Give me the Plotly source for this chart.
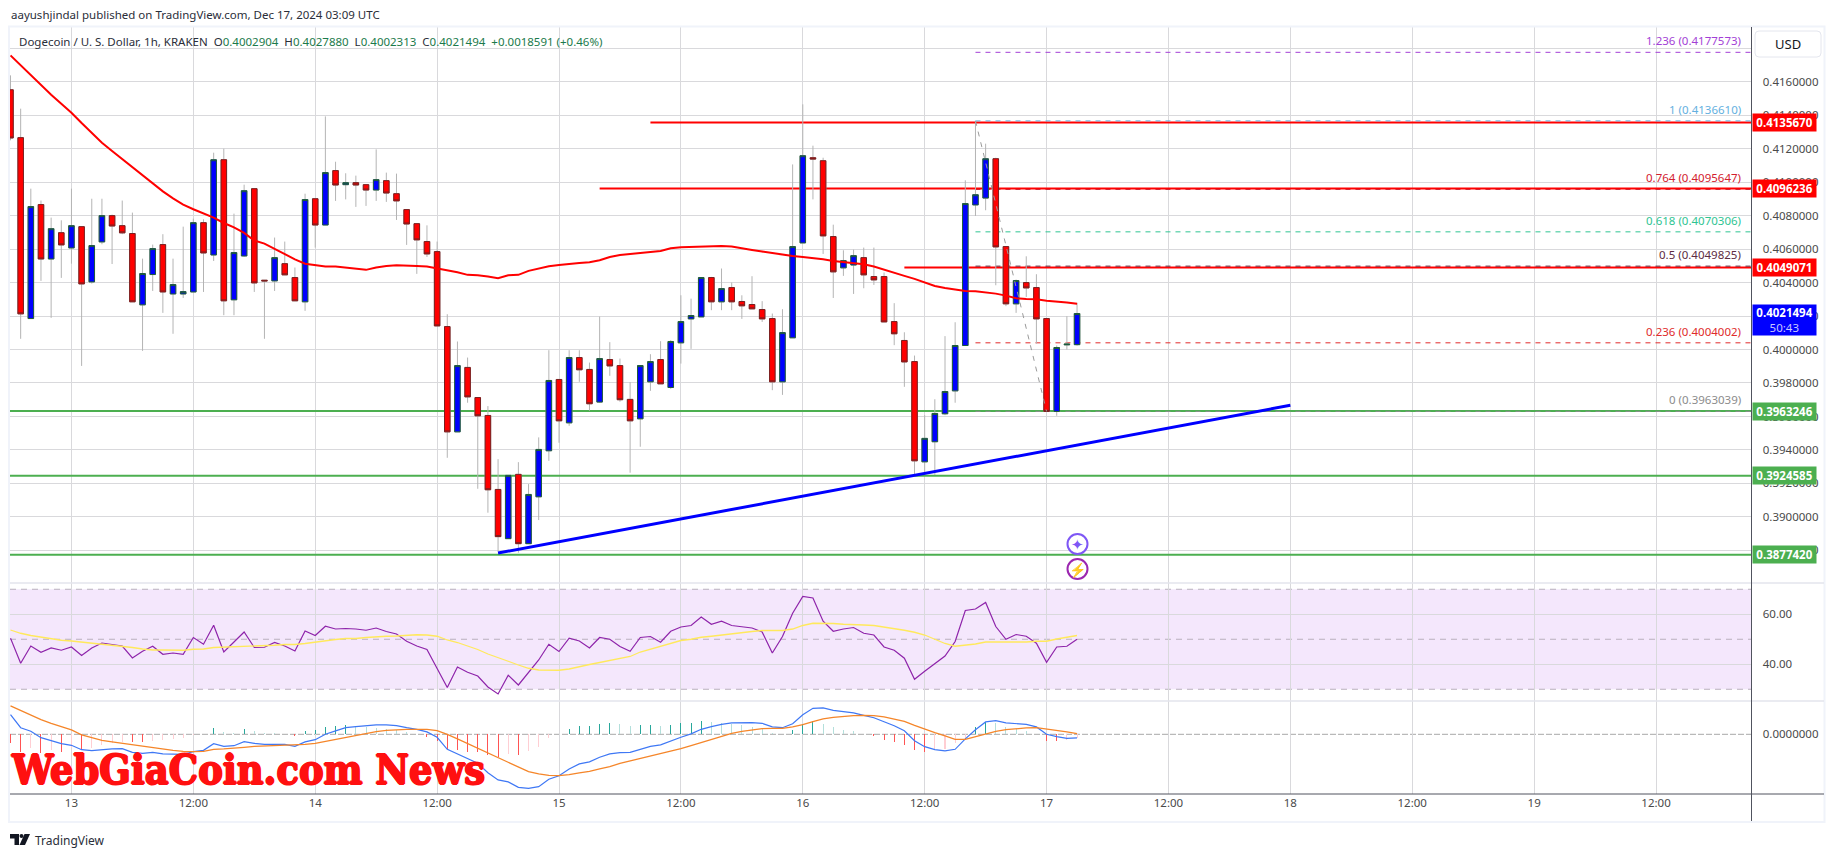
"""DOGE/USD 1h chart with RSI and MACD panes"""

import numpy as np
import pandas as pd
import plotly.graph_objects as go

W, H = 1835, 857
FONT = "Noto Sans"

times = pd.date_range("2024-12-12 18:00", periods=106, freq="h")

open_prices = [
    .41552, .41266, .40185, .40866, .40541, .40698, .40607, .40734, .40404, .40643,
    .40800, .40740, .40693, .40267, .40448, .40627, .40332, .40332, .40344, .40758,
    .40565, .41134, .40297, .40559, .40961, .40414, .40410, .40513, .40430, .40285,
    .40901, .40744, .41069, .40985, .40997, .40985, .40953, .41009, .40931, .40836,
    .40752, .40645, .40585, .40137, .39508, .39893, .39713, .39606, .39164, .38870,
    .39254, .38840, .39120, .39395, .39821, .39562, .39952, .39881, .39686, .39940,
    .39904, .39702, .39586, .39807, .39940, .39773, .40040, .40183, .40195, .40430,
    .40285, .40370, .40287, .40269, .40239, .40185, .39807, .40070, .40637, .41146,
    .41128, .40675, .40488, .40505, .40549, .40436, .40436, .40167, .40054, .39928,
    .39329, .39449, .39616, .39753, .40024, .40864, .40905, .41140, .40615, .40273,
    .40400, .40370, .40185, .39630, .40028, .4002904,
]
high_prices = [
    .41638, .41439, .40961, .40890, .40788, .40772, .40961, .40734, .40901, .40901,
    .40806, .40890, .40818, .40543, .40627, .40689, .40543, .40734, .40782, .40778,
    .41176, .41200, .40812, .40985, .40961, .40414, .40669, .40645, .40490, .40931,
    .40901, .41393, .41122, .41053, .41039, .40985, .41196, .41057, .41051, .40836,
    .40752, .40742, .40645, .40211, .40048, .39952, .39713, .39662, .39345, .39248,
    .39327, .39196, .39475, .39996, .39821, .39996, .39996, .39922, .40197, .40044,
    .39946, .39805, .39904, .39972, .40050, .40056, .40324, .40304, .40430, .40434,
    .40484, .40400, .40324, .40438, .40289, .40215, .40241, .41106, .41465, .41218,
    .41146, .40746, .40593, .40597, .40609, .40609, .40460, .40277, .40103, .39964,
    .39608, .39703, .40080, .40163, .41011, .41366, .41230, .41146, .40615, .40418,
    .40557, .40450, .40185, .40024, .40199, .4027880,
]
low_prices = [
    .41250, .40064, .40185, .40410, .40189, .40428, .40513, .39902, .40394, .40629,
    .40511, .40689, .40285, .39992, .40350, .40219, .40094, .40308, .40344, .40344,
    .40529, .40205, .40205, .40553, .40344, .40064, .40350, .40446, .40291, .40231,
    .40609, .40744, .40888, .40897, .40852, .40858, .40888, .40882, .40774, .40625,
    .40452, .40553, .40141, .39353, .39508, .39682, .39168, .39025, .38792, .38870,
    .38786, .38840, .38981, .39335, .39443, .39544, .39807, .39634, .39682, .39843,
    .39688, .39264, .39419, .39753, .39795, .39765, .39916, .40004, .40195, .40235,
    .40235, .40235, .40183, .40243, .40165, .39757, .39729, .40070, .40637, .40897,
    .40571, .40308, .40440, .40332, .40366, .40386, .40165, .40026, .39777, .39240,
    .39264, .39250, .39608, .39682, .40024, .40798, .40832, .40384, .40259, .40219,
    .40314, .40036, .39630, .39604, .40000, .4002313,
]
close_prices = [
    .41264, .40213, .40854, .40541, .40722, .40625, .40740, .40392, .40621, .40800,
    .40738, .40697, .40285, .40454, .40603, .40344, .40388, .40346, .40758, .40577,
    .41134, .40291, .40579, .40949, .40398, .40410, .40549, .40446, .40291, .40896,
    .40744, .41057, .40983, .40997, .40983, .40953, .41015, .40935, .40888, .40750,
    .40655, .40571, .40141, .39508, .39904, .39717, .39604, .39162, .38882, .39248,
    .38840, .39134, .39403, .39815, .39574, .39952, .39879, .39676, .39946, .39902,
    .39700, .39574, .39904, .39928, .39795, .40048, .40167, .40203, .40430, .40285,
    .40364, .40285, .40261, .40243, .40183, .39807, .40101, .40615, .41158, .41138,
    .40679, .40464, .40531, .40561, .40446, .40416, .40165, .40094, .39926, .39335,
    .39469, .39618, .39749, .40024, .40872, .40925, .41140, .40613, .40273, .40412,
    .40368, .40183, .39630, .40012, .40032, .4021494,
]
ma_values = [
    .41757, .41697, .41638, .41578, .41522, .41469, .41415, .41353, .41292, .41236,
    .41186, .41138, .41091, .41043, .40991, .40945, .40903, .40866, .40838, .40814,
    .40788, .40756, .40730, .40697, .40651, .40633, .40601, .40573, .40539, .40513,
    .40503, .40496, .40496, .40488, .40480, .40476, .40490, .40499, .40503, .40503,
    .40499, .40496, .40486, .40474, .40462, .40446, .40444, .40436, .40426, .40444,
    .40446, .40470, .40486, .40498, .40505, .40513, .40517, .40521, .40533, .40553,
    .40565, .40571, .40575, .40583, .40589, .40605, .40611, .40613, .40617, .40619,
    .40619, .40615, .40607, .40595, .40585, .40575, .40567, .40559, .40553, .40547,
    .40539, .40529, .40521, .40517, .40509, .40496, .40476, .40458, .40440, .40422,
    .40400, .40380, .40368, .40358, .40350, .40348, .40342, .40334, .40322, .40306,
    .40302, .40300, .40291, .40287, .40281, .40273,
]
rsi_values = [
    50.4, 40.4, 47.3, 44.8, 46.5, 45.6, 46.9, 43.5, 46.5, 48.5,
    47.9, 47.3, 42.5, 45.2, 47.2, 44.0, 44.5, 44.0, 50.7, 48.0,
    55.6, 44.9, 48.9, 52.9, 46.7, 46.8, 48.7, 47.3, 45.3, 53.3,
    51.5, 55.2, 54.1, 54.3, 54.1, 53.6, 54.5, 53.1, 52.1, 49.2,
    47.3, 45.9, 38.3, 30.7, 38.9, 36.8, 35.3, 30.9, 28.1, 35.6,
    31.7, 36.7, 41.7, 48.0, 45.1, 50.4, 49.3, 46.5, 50.7, 50.0,
    47.1, 45.2, 50.7, 51.1, 48.8, 53.2, 54.9, 55.5, 58.9, 56.0,
    57.2, 55.5, 55.1, 54.5, 52.9, 44.5, 51.1, 60.4, 67.1, 66.5,
    57.2, 53.2, 54.1, 54.7, 52.4, 51.7, 46.9, 45.6, 42.4, 34.0,
    37.2, 40.4, 43.3, 49.1, 61.5, 62.1, 64.7, 55.1, 50.0, 51.9,
    51.2, 48.4, 40.8, 46.9, 47.2, 50.0,
]
rsi_ma_values = [
    53.7, 52.4, 51.5, 50.8, 50.1, 49.6, 49.3, 48.9, 48.4, 48.1,
    47.7, 47.1, 46.7, 46.1, 45.7, 45.7, 45.6, 45.6, 46.0, 46.1,
    46.7, 46.8, 46.9, 47.2, 47.2, 47.2, 47.6, 47.9, 47.9, 48.3,
    48.9, 49.5, 49.9, 50.3, 50.3, 50.7, 51.1, 51.2, 51.3, 51.7,
    51.8, 51.7, 51.2, 49.7, 48.7, 47.3, 45.9, 44.1, 42.5, 41.2,
    39.7, 38.4, 37.7, 37.6, 37.6, 38.1, 39.1, 39.9, 40.7, 41.5,
    42.3, 43.1, 44.9, 46.0, 47.2, 48.4, 49.5, 50.0, 50.8, 51.2,
    51.7, 52.4, 52.8, 53.1, 53.5, 53.5, 53.5, 54.1, 55.5, 56.4,
    56.5, 56.3, 56.0, 56.0, 55.7, 55.5, 54.9, 54.4, 53.6, 52.8,
    51.7, 50.0, 48.3, 47.2, 47.5, 48.1, 48.9, 48.9, 48.8, 48.8,
    48.9, 49.2, 49.2, 50.1, 50.8, 51.5,
]
# MACD pane values, in units of 0.0001
macd_values = [
    9.8, 3.3, 1.5, -1.7, -3.2, -4.7, -5.5, -7.7, -8.2, -7.7,
    -7.3, -7.2, -9.0, -9.5, -9.0, -9.8, -9.8, -10.0, -8.7, -8.0,
    -4.7, -6.0, -5.7, -3.7, -4.5, -5.0, -5.0, -5.0, -6.0, -3.8,
    -2.7, 0.0, 1.7, 3.3, 3.8, 4.3, 4.7, 4.7, 4.3, 3.3,
    2.5, 1.2, -1.5, -7.5, -9.8, -12.2, -14.5, -19.2, -22.8, -23.8,
    -26.5, -27.0, -26.2, -22.5, -20.7, -17.3, -14.8, -13.8, -11.5, -9.8,
    -9.2, -9.0, -7.5, -6.0, -5.3, -3.3, -1.5, 0.2, 2.5, 3.8,
    5.0, 5.7, 5.8, 5.8, 5.5, 3.7, 3.3, 5.3, 9.8, 13.0,
    13.2, 12.0, 11.3, 10.7, 9.5, 8.3, 6.3, 4.3, 1.8, -3.2,
    -6.2, -7.7, -8.3, -7.5, -2.3, 2.3, 6.2, 6.8, 5.7, 5.5,
    5.0, 3.7, 0.0, -1.2, -2.0, -1.8,
]
signal_values = [
    14.2, 11.8, 9.5, 7.3, 5.5, 3.8, 2.2, -0.3, -1.7, -3.0,
    -3.8, -4.5, -5.3, -6.2, -6.8, -7.3, -8.0, -8.5, -8.7, -8.5,
    -7.5, -7.3, -7.0, -6.5, -6.0, -5.8, -5.7, -5.5, -5.5, -5.0,
    -4.5, -3.5, -2.5, -1.5, -0.5, 0.5, 1.3, 2.0, 2.3, 2.5,
    2.5, 2.5, 1.8, 0.0, -2.3, -4.7, -7.0, -9.3, -11.7, -14.0,
    -16.7, -18.7, -19.8, -20.5, -20.7, -20.2, -19.3, -18.5, -17.3, -16.2,
    -14.5, -13.3, -12.2, -11.0, -9.8, -8.7, -7.2, -5.7, -4.2, -2.7,
    -1.0, 0.5, 1.5, 2.3, 2.8, 3.0, 3.0, 3.7, 4.8, 6.3,
    7.7, 8.5, 9.0, 9.3, 9.5, 9.3, 8.7, 7.7, 6.5, 4.5,
    2.5, 0.8, -0.8, -2.5, -2.5, -1.2, 0.2, 1.5, 2.3, 2.8,
    3.2, 3.3, 2.7, 1.8, 1.2, 0.3,
]
hist_values = [
    -4.2, -8.7, -7.0, -9.5, -7.8, -8.7, -7.0, -7.8, -6.8, -5.3,
    -4.5, -3.8, -3.8, -3.8, -3.5, -2.7, -2.3, -1.8, -0.2, 0.3,
    3.2, 1.0, 0.5, 2.7, 1.5, 0.7, 0.5, 0.3, -0.7, 1.7,
    2.0, 3.7, 4.2, 4.7, 4.3, 3.8, 3.3, 2.8, 2.2, 1.0,
    0.0, -1.2, -3.2, -7.5, -7.8, -8.7, -8.7, -10.3, -11.5, -10.0,
    -10.3, -8.3, -6.2, -2.0, 0.0, 2.8, 4.3, 4.3, 5.2, 5.7,
    5.3, 4.2, 4.7, 4.7, 4.2, 4.7, 5.5, 5.5, 6.7, 6.0,
    5.7, 5.2, 4.7, 3.7, 2.8, 0.5, 0.3, 2.2, 5.0, 6.5,
    5.2, 3.7, 2.2, 1.7, 0.2, -0.7, -2.8, -3.7, -5.3, -7.8,
    -8.7, -7.8, -7.5, -4.5, -2.3, 3.7, 6.3, 5.7, 3.7, 2.7,
    1.5, 0.3, -3.3, -3.3, -2.8, -1.7,
]

price_ticks = [.418, .416, .414, .412, .41, .408, .406, .404, .402, .4, .398, .396, .394, .392, .39, .388]
time_ticks = pd.date_range("2024-12-13", periods=14, freq="12h")
time_labels = ["13", "12:00", "14", "12:00", "15", "12:00", "16", "12:00", "17", "12:00", "18", "12:00", "19", "12:00"]

resistance_levels = [(0.4135670, "2024-12-15 09:00"), (0.4096236, "2024-12-15 04:00"), (0.4049071, "2024-12-16 10:00")]
support_levels = [0.3963246, 0.3924585, 0.3877420]
trend_x = ["2024-12-14 18:00", "2024-12-18 00:00"]
trend_y = [0.38784, 0.39667]

fib_start = "2024-12-16 17:00"
fib_levels = [
    ("1.236", 0.4177573, "#a33fd6"),
    ("1", 0.4136610, "#64b0e0"),
    ("0.764", 0.4095647, "#d3202e"),
    ("0.618", 0.4070306, "#2fc492"),
    ("0.5", 0.4049825, "#5d2c42"),
    ("0.236", 0.4004002, "#e02b2b"),
    ("0", 0.3963039, "#8c8c8c"),
]
fib_diag_x = ["2024-12-16 17:00", "2024-12-17 00:00"]
fib_diag_y = [0.4136610, 0.3963039]

x_range = ["2024-12-12 17:57", "2024-12-19 21:24"]
x_right = x_range[1]

GRID = "#d9d9dc"
TEXT = "#4a4a4a"


def px(x):
    return x / W


def py(y):
    return 1 - y / H


fig = go.Figure()

# wicks first, grey, then bodies with their own border on top
fig.add_trace(go.Candlestick(
    x=times, open=open_prices, high=high_prices, low=low_prices, close=close_prices,
    increasing=dict(line=dict(color="#b4b4b4", width=1), fillcolor="#b4b4b4"),
    decreasing=dict(line=dict(color="#b4b4b4", width=1), fillcolor="#b4b4b4"),
    whiskerwidth=0, hoverinfo="skip", showlegend=False,
))
body_top = np.maximum(open_prices, close_prices)
body_bottom = np.minimum(open_prices, close_prices)
fig.add_trace(go.Candlestick(
    x=times, open=open_prices, high=body_top, low=body_bottom, close=close_prices,
    increasing=dict(line=dict(color="#1e5c3a", width=1), fillcolor="#0000ff"),
    decreasing=dict(line=dict(color="#7a1f1f", width=1), fillcolor="#ff0000"),
    whiskerwidth=0, showlegend=False,
))
fig.add_trace(go.Scatter(x=times, y=ma_values, mode="lines", line=dict(color="#ff0000", width=2), showlegend=False))
fig.add_trace(go.Scatter(x=trend_x, y=trend_y, mode="lines", line=dict(color="#0000ff", width=3), showlegend=False))
fig.add_trace(go.Scatter(x=fib_diag_x, y=fib_diag_y, mode="lines",
                         line=dict(color="#9a9a9a", width=1, dash="5px,6px"), showlegend=False))

# RSI pane
fig.add_trace(go.Scatter(x=times, y=rsi_values, mode="lines", yaxis="y2",
                         line=dict(color="#8e24aa", width=1.2), showlegend=False))
fig.add_trace(go.Scatter(x=times, y=rsi_ma_values, mode="lines", yaxis="y2",
                         line=dict(color="#ffe95c", width=1.3), showlegend=False))

# MACD pane; alpha just under 1 keeps plotly from widening the thin bars to 2px
macd_scale = 1e-4
hist = np.array(hist_values) * macd_scale
hist_colors = []
for i, v in enumerate(hist):
    prev = hist[i - 1] if i else v
    if v >= 0:
        hist_colors.append("rgba(38,166,154,0.99)" if v >= prev else "rgba(178,223,219,0.99)")
    else:
        hist_colors.append("rgba(255,82,82,0.99)" if v <= prev else "rgba(255,205,210,0.99)")
fig.add_trace(go.Bar(x=times, y=hist, yaxis="y3", width=360000, marker=dict(color=hist_colors, line_width=0),
                     showlegend=False))
fig.add_trace(go.Scatter(x=times, y=np.array(macd_values) * macd_scale, mode="lines", yaxis="y3",
                         line=dict(color="#3f78f5", width=1.2), showlegend=False))
fig.add_trace(go.Scatter(x=times, y=np.array(signal_values) * macd_scale, mode="lines", yaxis="y3",
                         line=dict(color="#f5862a", width=1.3), showlegend=False))

shapes = []
for level, start in resistance_levels:
    shapes.append(dict(type="line", xref="x", yref="y", x0=start, x1=x_right, y0=level, y1=level,
                       layer="between", line=dict(color="#ff0000", width=2)))
for level in support_levels:
    shapes.append(dict(type="line", xref="x", yref="y", x0=x_range[0], x1=x_right, y0=level, y1=level,
                       layer="between", line=dict(color="#4caf50", width=2)))
for _, level, color in fib_levels:
    shapes.append(dict(type="line", xref="x", yref="y", x0=fib_start, x1=x_right, y0=level, y1=level,
                       layer="between", line=dict(color=color, width=1, dash="5px,5px")))

# RSI band and its dashed levels
shapes.append(dict(type="rect", xref="paper", x0=px(10), x1=px(1751.5), yref="y2", y0=30, y1=70,
                   layer="between", fillcolor="rgba(156,39,230,0.11)", line_width=0))
for level in [70, 50, 30]:
    shapes.append(dict(type="line", xref="paper", x0=px(10), x1=px(1751.5), yref="y2", y0=level, y1=level,
                       layer="between", line=dict(color="#b9b0bd", width=1, dash="6px,5px")))
shapes.append(dict(type="line", xref="paper", x0=px(10), x1=px(1751.5), yref="y3", y0=0, y1=0,
                   layer="between", line=dict(color="#a8a8a8", width=1, dash="6px,2px")))

# frame, pane separators, scale lines
shapes.append(dict(type="rect", xref="paper", yref="paper", x0=px(9), x1=px(1824.5), y0=py(822), y1=py(26.5),
                   layer="above", line=dict(color="#f0f3fa", width=2)))
for y in [583, 701]:
    shapes.append(dict(type="line", xref="paper", yref="paper", x0=px(10), x1=px(1824), y0=py(y), y1=py(y),
                       layer="above", line=dict(color="#e3e5ec", width=1.5)))
shapes.append(dict(type="line", xref="paper", yref="paper", x0=px(10), x1=px(1824), y0=py(794), y1=py(794),
                   layer="above", line=dict(color="#50535e", width=1)))
shapes.append(dict(type="line", xref="paper", yref="paper", x0=px(1751.5), x1=px(1751.5), y0=py(27), y1=py(821),
                   layer="above", line=dict(color="#50535e", width=1)))

# USD button
usd = [1755, 1821, 31, 57, 4]
shapes.append(dict(
    type="path", xref="paper", yref="paper", fillcolor="#ffffff", line=dict(color="#e4e6ee", width=1), layer="above",
    path=(f"M {px(usd[0]+usd[4])} {py(usd[2])} L {px(usd[1]-usd[4])} {py(usd[2])} "
          f"Q {px(usd[1])} {py(usd[2])} {px(usd[1])} {py(usd[2]+usd[4])} L {px(usd[1])} {py(usd[3]-usd[4])} "
          f"Q {px(usd[1])} {py(usd[3])} {px(usd[1]-usd[4])} {py(usd[3])} L {px(usd[0]+usd[4])} {py(usd[3])} "
          f"Q {px(usd[0])} {py(usd[3])} {px(usd[0])} {py(usd[3]-usd[4])} L {px(usd[0])} {py(usd[2]+usd[4])} "
          f"Q {px(usd[0])} {py(usd[2])} {px(usd[0]+usd[4])} {py(usd[2])} Z"),
))

# marker icons under the last candle
for cy, color in [(544, "#7e57f5"), (569, "#9c27b0")]:
    shapes.append(dict(type="circle", xref="paper", yref="paper", x0=px(1067.5), x1=px(1087.5),
                       y0=py(cy + 10), y1=py(cy - 10), fillcolor="#ffffff",
                       line=dict(color=color, width=2), layer="above"))

# TradingView logo
shapes.append(dict(type="path", xref="paper", yref="paper", fillcolor="#131722", line_width=0, layer="above",
                   path=f"M {px(10)} {py(834)} L {px(19)} {py(834)} L {px(19)} {py(845)} L {px(14.5)} {py(845)} "
                        f"L {px(14.5)} {py(838.5)} L {px(10)} {py(838.5)} Z"))
shapes.append(dict(type="circle", xref="paper", yref="paper", fillcolor="#131722", line_width=0, layer="above",
                   x0=px(19.5), x1=px(23.5), y0=py(838), y1=py(834)))
shapes.append(dict(type="path", xref="paper", yref="paper", fillcolor="#131722", line_width=0, layer="above",
                   path=f"M {px(24.5)} {py(834)} L {px(30)} {py(834)} L {px(25)} {py(845)} L {px(19.5)} {py(845)} Z"))

annotations = []


def add_text(text, x, y, size=11.5, color=TEXT, anchor="left", **kw):
    annotations.append(dict(text=text, xref="paper", yref="paper", x=px(x), y=py(y), xanchor=anchor, yanchor="middle",
                            showarrow=False, font=dict(family=FONT, size=size, color=color), **kw))


def add_tag(text, level, color, height=17, shift=0):
    annotations.append(dict(text=text, xref="paper", yref="y", x=px(1752), y=level, xanchor="left", yanchor="middle",
                            yshift=shift, showarrow=False, bgcolor=color, width=63, height=height, borderpad=0,
                            align="center", font=dict(family=FONT, size=11.5, color="#ffffff")))


add_text("aayushjindal published on TradingView.com, Dec 17, 2024 03:09 UTC", 9, 15, size=11.5, color="#2a2e39")
val = '<span style="color:#1b7a4b">%s</span>'
add_text("Dogecoin / U. S. Dollar, 1h, KRAKEN  O" + val % "0.4002904" + "  H" + val % "0.4027880"
         + "  L" + val % "0.4002313" + "  C" + val % "0.4021494" + "  " + val % "+0.0018591 (+0.46%)",
         17, 41.5, size=11.5, color="#2a2e39")
add_text("USD", 1788, 44, size=13, color="#131722", anchor="center")
add_text("TradingView", 33, 840, size=12, color="#2a2e39")

for name, level, color in fib_levels:
    annotations.append(dict(text=f"{name} ({level:.7f})", xref="paper", yref="y", x=px(1742.5), y=level,
                            xanchor="right", yanchor="bottom", yshift=2, showarrow=False,
                            font=dict(family=FONT, size=11.5, color=color)))

add_tag("<b>0.4135670</b>", 0.4135670, "#ff0000")
add_tag("<b>0.4096236</b>", 0.4096236, "#ff0000")
add_tag("<b>0.4049071</b>", 0.4049071, "#ff0000")
add_tag('<b>0.4021494</b><br><span style="color:#c8c8ff">50:43</span>', 0.4021494, "#0000ff", height=30, shift=-6.5)
add_tag("<b>0.3963246</b>", 0.3963246, "#4caf50")
add_tag("<b>0.3924585</b>", 0.3924585, "#4caf50")
add_tag("<b>0.3877420</b>", 0.3877420, "#4caf50")

add_text("✦", 1077.5, 544, size=15, color="#7e57f5", anchor="center")
add_text("⚡", 1077.5, 569, size=14, color="#9c27b0", anchor="center")

annotations.append(dict(text="<b>WebGiaCoin.com News</b>", xref="paper", yref="paper", x=px(9), y=py(770),
                        xanchor="left", yanchor="middle", showarrow=False,
                        font=dict(family="DejaVu Serif Condensed, Liberation Serif", size=41, color="#ff1010",
                                  shadow="1px 0 0 #ff1010, -1px 0 0 #ff1010, 0 1px 0 #ff1010, 0 -1px 0 #ff1010")))

axis_font = dict(family=FONT, size=11.5, color=TEXT)

fig.update_layout(
    width=W, height=H, autosize=False,
    margin=dict(l=0, r=0, t=0, b=0),
    paper_bgcolor="#ffffff", plot_bgcolor="rgba(0,0,0,0)",
    showlegend=False, hovermode=False, bargap=0,
    boxgap=0.3, boxgroupgap=0.22,
    shapes=shapes, annotations=annotations,
    xaxis=dict(
        domain=[px(10), px(1751.5)], range=x_range, type="date", anchor="y3",
        tickmode="array", tickvals=time_ticks, ticktext=time_labels, tickfont=axis_font,
        showgrid=True, gridcolor=GRID, gridwidth=1, zeroline=False, showline=False,
        ticks="", rangeslider=dict(visible=False),
    ),
    yaxis=dict(
        domain=[py(583), py(26.5)], range=[0.38605, 0.4193], side="right", anchor="x",
        tickmode="array", tickvals=price_ticks,
        ticktext=["" if t == .418 else f"{t:.7f}" for t in price_ticks],
        tickfont=axis_font, ticks="outside", ticklen=8, tickcolor="rgba(0,0,0,0)",
        showgrid=True, gridcolor=GRID, zeroline=False, showline=False,
    ),
    yaxis2=dict(
        domain=[py(701), py(583)], range=[25.3, 72.5], side="right", anchor="x",
        tickmode="array", tickvals=[60, 40], ticktext=["60.00", "40.00"],
        tickfont=axis_font, ticks="outside", ticklen=8, tickcolor="rgba(0,0,0,0)",
        showgrid=True, gridcolor="#d9d9dc", zeroline=False, showline=False,
    ),
    yaxis3=dict(
        domain=[py(794), py(701)], range=[-0.002985, 0.001665], side="right", anchor="x",
        tickmode="array", tickvals=[0], ticktext=["0.0000000"],
        tickfont=axis_font, ticks="outside", ticklen=8, tickcolor="rgba(0,0,0,0)",
        showgrid=False, zeroline=False, showline=False,
    ),
)

fig.write_html("out.html", config={"displayModeBar": False},
               post_script="document.body.style.margin='0';document.body.style.overflow='hidden';")
